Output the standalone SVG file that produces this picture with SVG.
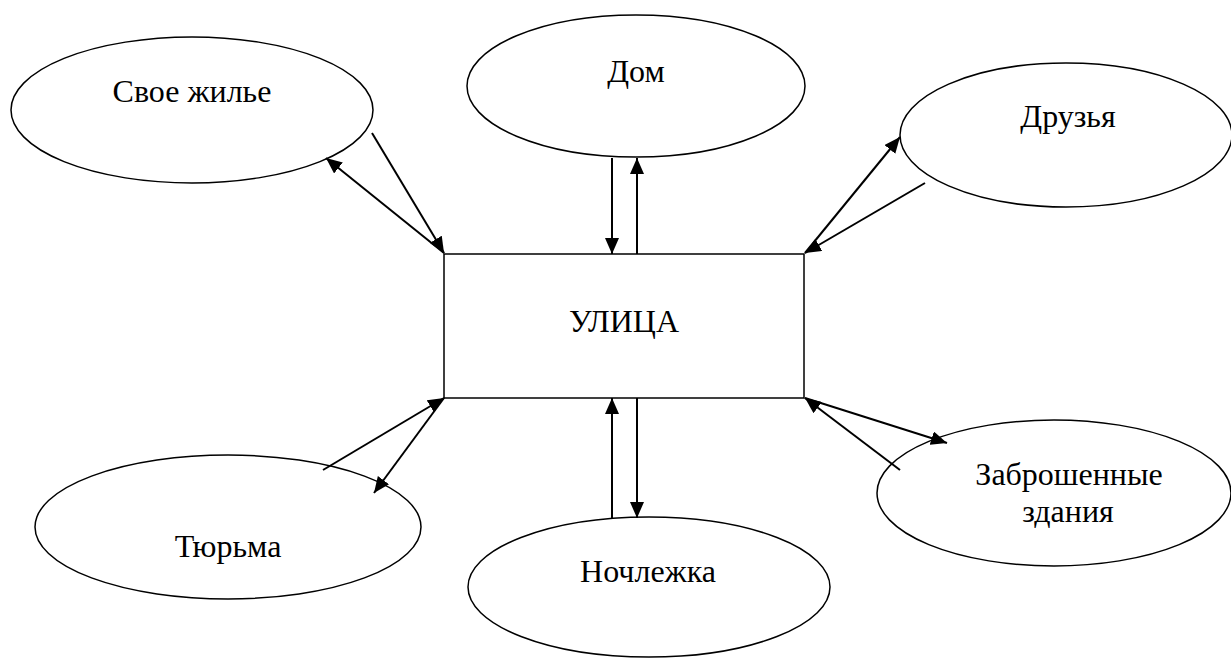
<svg xmlns="http://www.w3.org/2000/svg" width="1231" height="658" viewBox="0 0 1231 658">
<style>
.n{fill:#fff;stroke:#000;stroke-width:1.5}
.t{font-family:"Liberation Serif","Times New Roman",serif;font-size:32px;fill:#000;text-anchor:middle}
.c line{stroke:#000;stroke-width:2;marker-end:url(#ah)}
</style>
<defs>
<marker id="ah" markerUnits="userSpaceOnUse" markerWidth="16" markerHeight="14" viewBox="0 0 16 14" refX="16" refY="7" orient="auto">
<path d="M0,0 L16,7 L0,14 z" fill="#000"/>
</marker>
</defs>
<rect width="1231" height="658" fill="#fff"/>
<g id="svoe"><ellipse class="n" cx="192" cy="110" rx="181" ry="73"/><text class="t" x="192" y="102">Свое жилье</text></g>
<g id="dom"><ellipse class="n" cx="636" cy="86" rx="169" ry="71"/><text class="t" x="636" y="82">Дом</text></g>
<g id="druzya"><ellipse class="n" cx="1066" cy="135" rx="166" ry="72"/><text class="t" x="1068" y="127">Друзья</text></g>
<g id="ulica"><rect class="n" x="444" y="254" width="360" height="144"/><text class="t" x="624" y="332">УЛИЦА</text></g>
<g id="tyurma"><ellipse class="n" cx="228" cy="527" rx="193" ry="72"/><text class="t" x="228" y="557">Тюрьма</text></g>
<g id="nochlezhka"><ellipse class="n" cx="649" cy="587" rx="181" ry="70"/><text class="t" x="648" y="582">Ночлежка</text></g>
<g id="zabr"><ellipse class="n" cx="1054" cy="493" rx="177" ry="73"/><text class="t" x="1069" y="485">Заброшенные</text><text class="t" x="1068" y="522">здания</text></g>
<g class="c" id="connectors">
<line x1="372" y1="133" x2="444" y2="253"/>
<line x1="444" y1="253" x2="326" y2="158"/>
<line x1="612" y1="158" x2="612" y2="254"/>
<line x1="637" y1="254" x2="637" y2="158"/>
<line x1="805" y1="253" x2="900" y2="137"/>
<line x1="925" y1="183" x2="805" y2="253"/>
<line x1="323" y1="470" x2="444" y2="398"/>
<line x1="444" y1="398" x2="374" y2="493"/>
<line x1="612" y1="518" x2="612" y2="398"/>
<line x1="637" y1="398" x2="637" y2="518"/>
<line x1="805" y1="398" x2="947" y2="443"/>
<line x1="900" y1="470" x2="805" y2="398"/>
</g>
</svg>
